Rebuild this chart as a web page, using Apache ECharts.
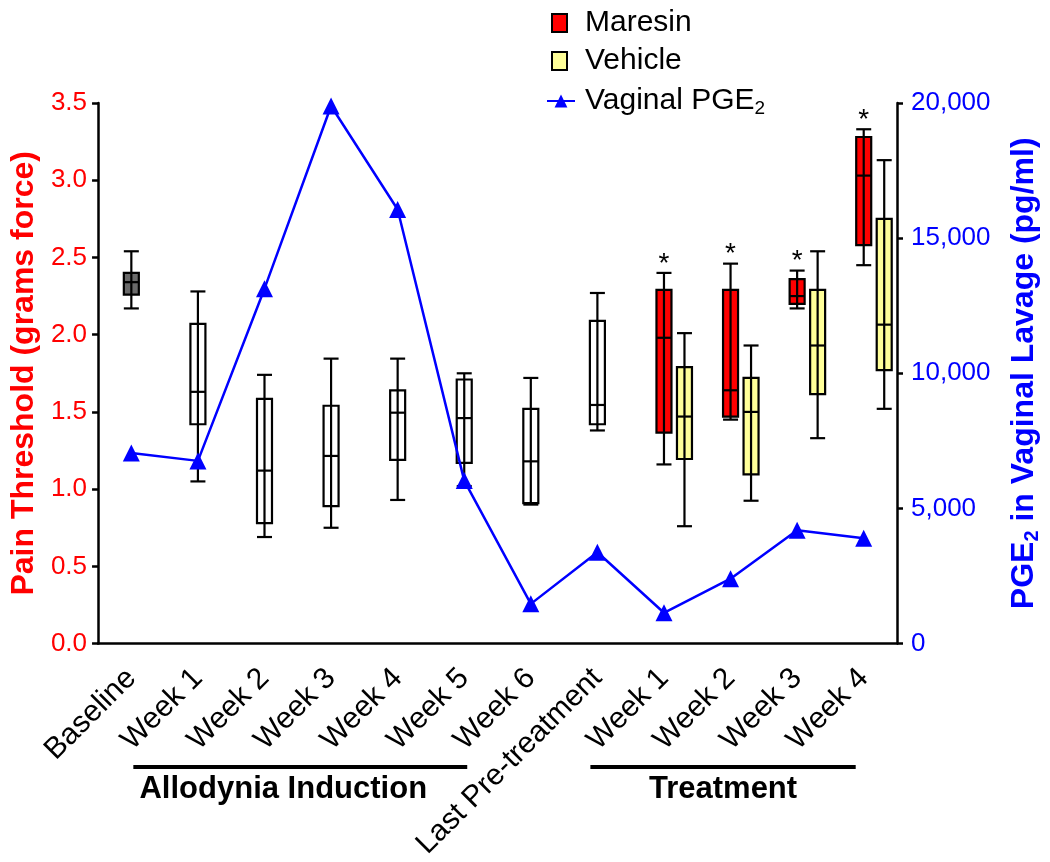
<!DOCTYPE html>
<html><head><meta charset="utf-8">
<script src="https://cdn.jsdelivr.net/npm/echarts@6/dist/echarts.min.js"></script>
<style>html,body{margin:0;padding:0;background:#fff;overflow:hidden}#c{width:1050px;height:862px}</style>
</head><body><div id="c"></div>
<script>
// ---------- DATA ----------
const categories = ['Baseline','Week 1','Week 2','Week 3','Week 4','Week 5','Week 6','Last Pre-treatment','Week 1','Week 2','Week 3','Week 4'];
// each entry: [low whisker, Q1, median, Q3, high whisker]  (grams force)
const inductionStats = [
  [2.17, 2.26, 2.34, 2.40, 2.54],
  [1.05, 1.42, 1.63, 2.07, 2.28],
  [0.69, 0.78, 1.12, 1.585, 1.74],
  [0.75, 0.89, 1.215, 1.54, 1.845],
  [0.93, 1.19, 1.495, 1.64, 1.845],
  [1.02, 1.17, 1.46, 1.71, 1.75],
  [0.90, 0.91, 1.18, 1.52, 1.72],
  [1.38, 1.42, 1.545, 2.09, 2.27]
];
const treatmentIndex = [8, 9, 10, 11];
const maresinStats = [
  [1.16, 1.366, 1.98, 2.29, 2.40],
  [1.45, 1.47, 1.64, 2.29, 2.46],
  [2.17, 2.20, 2.25, 2.36, 2.415],
  [2.45, 2.58, 3.03, 3.28, 3.33]
];
const vehicleStats = [
  [0.76, 1.195, 1.47, 1.79, 2.01],
  [0.925, 1.096, 1.50, 1.72, 1.93],
  [1.33, 1.615, 1.93, 2.29, 2.54],
  [1.52, 1.77, 2.065, 2.75, 3.13]
];
const maresinMarks = ['*', '*', '*', '*'];
// Vaginal PGE2 (pg/ml)
const pge2Values = [7050, 6760, 13130, 19890, 16060, 6030, 1470, 3380, 1140, 2400, 4190, 3900];
const painAxis = { min: 0, max: 3.5, interval: 0.5 };
const pgeAxis = { min: 0, max: 20000, interval: 5000 };
const groupLabels = ['Allodynia Induction', 'Treatment'];
const groupRanges = [[0, 5], [7, 11]];

// ---------- STYLE ----------
const FONT = "'Liberation Sans', Arial, sans-serif";
const RED = '#FF0000', BLUE = '#0000FF', YELLOW = '#FFFF99', GREY = '#6A6A6A';
const BOX_W = 15;

function boxRenderer(offsetPx, fillFn, marks) {
  return function (params, api) {
    const x = api.value(0);
    const pLow = api.coord([x, api.value(1)]);
    const pQ1 = api.coord([x, api.value(2)]);
    const pMed = api.coord([x, api.value(3)]);
    const pQ3 = api.coord([x, api.value(4)]);
    const pHigh = api.coord([x, api.value(5)]);
    const cx = pLow[0] + offsetPx;
    const hw = BOX_W / 2;
    const ls = { stroke: '#000', lineWidth: 2.2 };
    const children = [
      { type: 'rect', shape: { x: cx - hw, y: pQ3[1], width: BOX_W, height: pQ1[1] - pQ3[1] },
        style: { fill: fillFn(params.dataIndex), stroke: '#000', lineWidth: 2.2 } },
      { type: 'line', shape: { x1: cx, y1: pHigh[1], x2: cx, y2: pLow[1] }, style: ls },
      { type: 'line', shape: { x1: cx - hw, y1: pHigh[1], x2: cx + hw, y2: pHigh[1] }, style: ls },
      { type: 'line', shape: { x1: cx - hw, y1: pLow[1], x2: cx + hw, y2: pLow[1] }, style: ls },
      { type: 'line', shape: { x1: cx - hw, y1: pMed[1], x2: cx + hw, y2: pMed[1] }, style: ls }
    ];
    if (marks) {
      children.push({ type: 'text', style: { text: marks[params.dataIndex], x: cx, y: pHigh[1] - 9,
        align: 'center', verticalAlign: 'middle', font: '28px ' + FONT, fill: '#000' } });
    }
    return { type: 'group', children };
  };
}

const inductionData = inductionStats.map((s, i) => [i, ...s]);
const maresinData = maresinStats.map((s, k) => [treatmentIndex[k], ...s]);
const vehicleData = vehicleStats.map((s, k) => [treatmentIndex[k], ...s]);

const chart = echarts.init(document.getElementById('c'), null, { renderer: 'canvas' });
const option = {
  backgroundColor: '#fff',
  animation: false,
  textStyle: { fontFamily: FONT },
  grid: { left: 95, right: 139, top: 103, bottom: 215, containLabel: false },
  legend: [
    { orient: 'vertical', left: 546, top: 3, itemWidth: 15, itemHeight: 18, itemGap: 8,
      data: [
        { name: 'Maresin', icon: 'rect', itemStyle: { color: RED, borderColor: '#000', borderWidth: 2 } },
        { name: 'Vehicle', icon: 'rect', itemStyle: { color: YELLOW, borderColor: '#000', borderWidth: 2 } }
      ],
      textStyle: { fontSize: 30, lineHeight: 30, color: '#000', fontFamily: FONT, padding: [0, 0, 0, 13] } },
    { orient: 'vertical', left: 541, top: 81, itemWidth: 28, itemHeight: 16,
      data: ['Vaginal PGE2'],
      formatter: () => '{t|Vaginal PGE}{s|2}',
      textStyle: { fontSize: 30, color: '#000', fontFamily: FONT, padding: [0, 0, 0, 5],
        rich: { t: { fontSize: 30, fontFamily: FONT, lineHeight: 34 },
                s: { fontSize: 19, fontFamily: FONT, verticalAlign: 'bottom', lineHeight: 34, padding: [10, 0, 0, 0] } } } }
  ],
  xAxis: {
    type: 'category', data: categories, boundaryGap: true,
    axisLine: { lineStyle: { color: '#000', width: 2.5 } },
    axisTick: { alignWithLabel: true, length: 7, lineStyle: { color: '#000', width: 2.5 } },
    axisLabel: { rotate: 45, interval: 0, margin: 30, fontSize: 30, color: '#000', fontFamily: FONT },
    splitLine: { show: false }
  },
  yAxis: [
    { type: 'value', min: painAxis.min, max: painAxis.max, interval: painAxis.interval, position: 'left',
      name: 'Pain Threshold (grams force)', nameLocation: 'middle', nameRotate: 90, nameGap: 58,
      nameTextStyle: { color: RED, fontSize: 32, fontWeight: 'bold', fontFamily: FONT },
      axisLine: { show: true, lineStyle: { color: '#000', width: 2.5 } },
      axisTick: { show: true, length: 6, lineStyle: { color: '#000', width: 2.5 } },
      axisLabel: { color: RED, fontSize: 26, margin: 11, fontFamily: FONT, formatter: v => v.toFixed(1) },
      splitLine: { show: false } },
    { type: 'value', min: pgeAxis.min, max: pgeAxis.max, interval: pgeAxis.interval, position: 'right',
      name: '{b|PGE}{s|2}{b| in Vaginal Lavage (pg/ml)}', nameLocation: 'middle', nameRotate: 90, nameGap: 109,
      nameTextStyle: { color: BLUE, fontSize: 32, fontWeight: 'bold', fontFamily: FONT,
        rich: { b: { color: BLUE, fontSize: 32, fontWeight: 'bold', fontFamily: FONT, lineHeight: 36 },
                s: { color: BLUE, fontSize: 20, fontWeight: 'bold', fontFamily: FONT, verticalAlign: 'bottom', lineHeight: 36, padding: [12, 0, 0, 0] } } },
      axisLine: { show: true, lineStyle: { color: '#000', width: 2.5 } },
      axisTick: { show: true, length: 6, lineStyle: { color: '#000', width: 2.5 } },
      axisLabel: { color: BLUE, fontSize: 26, margin: 14, fontFamily: FONT, formatter: v => v.toLocaleString('en-US') },
      splitLine: { show: false } }
  ],
  series: [
    { name: 'Induction', type: 'custom', xAxisIndex: 0, yAxisIndex: 0, z: 2,
      encode: { x: 0, y: [1, 2, 3, 4, 5] },
      renderItem: boxRenderer(0, i => (i === 0 ? GREY : '#FFFFFF')), data: inductionData },
    { name: 'Maresin', type: 'custom', xAxisIndex: 0, yAxisIndex: 0, z: 2,
      itemStyle: { color: RED }, encode: { x: 0, y: [1, 2, 3, 4, 5] },
      renderItem: boxRenderer(0, () => RED, maresinMarks), data: maresinData },
    { name: 'Vehicle', type: 'custom', xAxisIndex: 0, yAxisIndex: 0, z: 2,
      itemStyle: { color: YELLOW }, encode: { x: 0, y: [1, 2, 3, 4, 5] },
      renderItem: boxRenderer(20.5, () => YELLOW), data: vehicleData },
    { name: 'Vaginal PGE2', type: 'line', xAxisIndex: 0, yAxisIndex: 1, z: 5,
      data: pge2Values, symbol: 'triangle', symbolSize: 17, showSymbol: true,
      lineStyle: { color: BLUE, width: 2.5 }, itemStyle: { color: BLUE } }
  ]
};
chart.setOption(option);

// group annotations below the category labels
const px = i => chart.convertToPixel({ xAxisIndex: 0 }, i);
const graphics = [];
const lineOffsets = [[2, 3], [-7, -8]];
const textShift = [-17, 0];
groupLabels.forEach((label, g) => {
  const x1 = px(groupRanges[g][0]) + lineOffsets[g][0];
  const x2 = px(groupRanges[g][1]) + lineOffsets[g][1];
  graphics.push({ type: 'line', shape: { x1, y1: 767, x2, y2: 767 }, style: { stroke: '#000', lineWidth: 4 } });
  graphics.push({ type: 'text', style: { text: label, x: (x1 + x2) / 2 + textShift[g], y: 789,
    align: 'center', verticalAlign: 'middle', font: 'bold 31px ' + FONT, fill: '#000' } });
});
chart.setOption({ graphic: graphics });
</script></body></html>
